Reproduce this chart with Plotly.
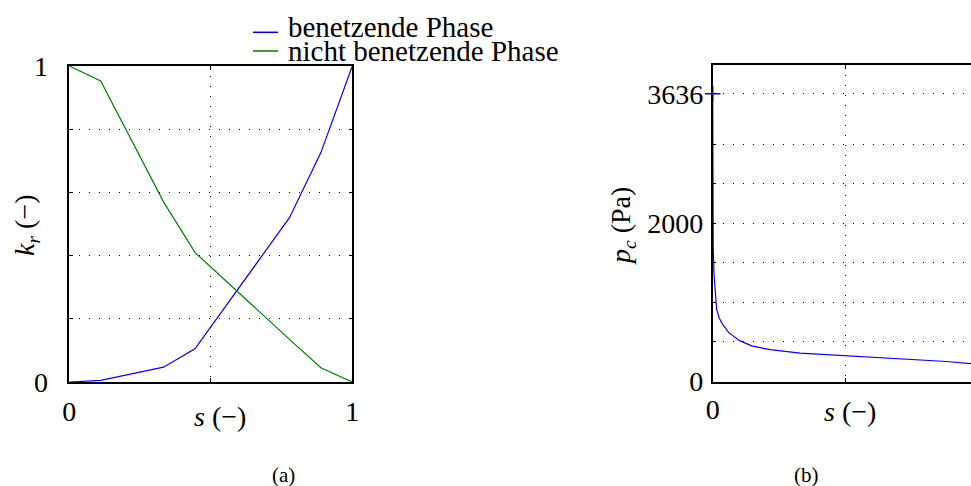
import plotly.graph_objects as go

# ---- data -------------------------------------------------------------
# relative permeability vs. saturation
s_kr = [0.0, 0.111, 0.333, 0.444, 0.778, 0.889, 1.0]
kr_wetting = [0.0, 0.005, 0.047, 0.105, 0.52, 0.726, 1.0]
kr_nonwetting = [1.0, 0.953, 0.57, 0.41, 0.135, 0.045, 0.0]

# capillary pressure vs. saturation
s_pc = [0.0, 0.001, 0.002, 0.005, 0.009, 0.015, 0.025, 0.038, 0.06, 0.10,
        0.147, 0.217, 0.33, 0.5, 0.6, 0.677, 0.733, 0.87, 0.884, 0.976]
pc = [3636, 2400, 1700, 1350, 1150, 910, 800, 720, 620, 520,
      450, 402, 358, 325, 312, 300, 282, 262, 253, 226]

series_names = ["benetzende Phase", "nicht benetzende Phase"]

# labelled ticks and unlabelled grid positions
kr_ticks = [0, 1]
kr_grid = [0.2, 0.4, 0.6, 0.8]
s_ticks = [0, 1]
s_ticks_pc = [0]
s_grid = [0.5]
pc_ticks = [0, 2000, 3636]
pc_grid = [500, 1000, 1500, 2500, 3000]

# ---- styling ----------------------------------------------------------
W, H = 971, 486
FONT = "Liberation Serif"
BLUE = "#0000ff"
GREEN = "#008000"


def px(x):
    return x / W


def py(y):
    return 1 - y / H


def minor_grid(vals):
    return dict(tickmode="array", tickvals=vals, showgrid=True, gridcolor="#000000",
                gridwidth=1, griddash="1px,9px", ticks="inside", ticklen=4,
                tickcolor="#000000")


grid = dict(showgrid=True, gridcolor="#000000", gridwidth=1, griddash="1px,9px",
            zeroline=False, showline=True, linecolor="#000000", linewidth=1.5,
            ticks="inside", ticklen=4, tickcolor="#000000", automargin=False,
            tickmode="array",
            tickfont=dict(family=FONT, size=28, color="#000000"))

fig = go.Figure()

fig.add_trace(go.Scatter(x=s_kr, y=kr_wetting, mode="lines", name=series_names[0],
                         line=dict(color=BLUE, width=1.2), xaxis="x", yaxis="y",
                         showlegend=False))
fig.add_trace(go.Scatter(x=s_kr, y=kr_nonwetting, mode="lines", name=series_names[1],
                         line=dict(color=GREEN, width=1.2), xaxis="x", yaxis="y",
                         showlegend=False))
fig.add_trace(go.Scatter(x=s_pc, y=pc, mode="lines", line=dict(color=BLUE, width=1.2),
                         xaxis="x2", yaxis="y2", showlegend=False, cliponaxis=False))
fig.add_trace(go.Scatter(x=s_pc[:1], y=pc[:1], mode="markers",
                         marker=dict(symbol="cross-thin", size=11,
                                     line=dict(color=BLUE, width=1.5)),
                         xaxis="x2", yaxis="y2", showlegend=False, cliponaxis=False))

fig.update_layout(
    width=W, height=H,
    margin=dict(l=0, r=0, t=0, b=0, pad=0),
    paper_bgcolor="white", plot_bgcolor="white",
    xaxis=dict(grid, domain=[px(69.3), px(352.3)], range=[0, 1],
               tickvals=s_ticks, minor=minor_grid(s_grid), mirror="ticks",
               ticklabelstandoff=4, anchor="y"),
    yaxis=dict(grid, domain=[py(382), py(66)], range=[0, 1],
               tickvals=kr_ticks, minor=minor_grid(kr_grid), mirror="ticks",
               ticklabelstandoff=14, anchor="x"),
    xaxis2=dict(grid, domain=[px(712.7), 1.0], range=[0, 0.976],
                tickvals=s_ticks_pc, minor=minor_grid(s_grid), mirror="ticks",
                ticklabelstandoff=2, anchor="y2"),
    yaxis2=dict(grid, domain=[py(381.5), py(65)], range=[0, 4000],
                tickvals=pc_ticks, minor=minor_grid(pc_grid), mirror=False,
                ticklabelstandoff=2, anchor="x2"),
)

# axis titles and sub-captions
txt = dict(font=dict(family=FONT, size=28, color="#000000"), showarrow=False,
           xref="paper", yref="paper", xanchor="center", yanchor="middle")
annotations = [
    dict(txt, text="<i>s</i> (−)", x=px(220), y=py(416)),
    dict(txt, text="<i>s</i> (−)", x=px(850), y=py(411)),
    dict(txt, text="<i>k<sub>r</sub></i> (−)", x=px(26), y=py(225), textangle=-90),
    dict(txt, text="<i>p<sub>c</sub></i> (Pa)", x=px(622), y=py(226), textangle=-90),
    dict(txt, text="(a)", x=px(283), y=py(475), font=dict(family=FONT, size=21, color="#000000")),
    dict(txt, text="(b)", x=px(806), y=py(475), font=dict(family=FONT, size=21, color="#000000")),
]

# legend block above the left panel
legend_rows = [(series_names[0], BLUE, 27, 32.3), (series_names[1], GREEN, 51, 51)]
shapes = []
for name, color, ty, ly in legend_rows:
    annotations.append(dict(txt, text=name, x=px(286), y=py(ty), xanchor="left",
                            font=dict(family=FONT, size=29, color="#000000")))
    shapes.append(dict(type="line", xref="paper", yref="paper",
                       x0=px(253), x1=px(278), y0=py(ly), y1=py(ly),
                       line=dict(color=color, width=1.5)))

fig.update_layout(annotations=annotations, shapes=shapes)

fig.write_html("out.html")
